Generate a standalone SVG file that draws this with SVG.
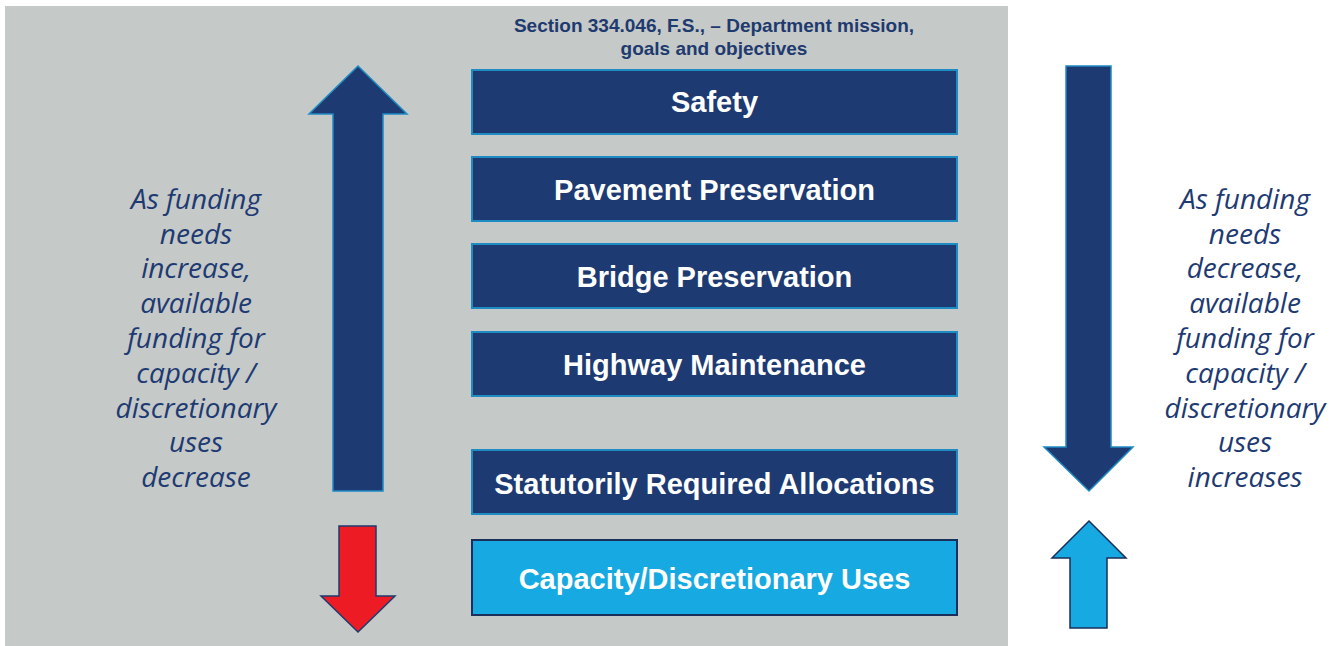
<svg xmlns="http://www.w3.org/2000/svg" width="1338" height="646" viewBox="0 0 1338 646">
<style>
.box{fill:#1e3a72;stroke:#1e8bc3;stroke-width:2}
.cap{fill:#17a9e1;stroke:#1a2f5a;stroke-width:2}
.lbl{font-family:"Liberation Sans",Arial,sans-serif;font-weight:bold;font-size:29px;fill:#ffffff;text-anchor:middle}
.ttl{font-family:"Liberation Sans",Arial,sans-serif;font-weight:bold;font-size:19px;fill:#1e3a6e;text-anchor:middle}
.it{font-family:"Open Sans",sans-serif;font-style:italic;font-size:28px;fill:#1e3a72;text-anchor:middle}
</style>
<rect x="0" y="0" width="1338" height="646" fill="#ffffff"/>
<rect x="5" y="6" width="1003" height="640" fill="#c5c9c8"/>
<g id="title">
<text class="ttl" x="714" y="32">Section 334.046, F.S., – Department mission,</text>
<text class="ttl" x="714" y="55">goals and objectives</text>
</g>
<g id="safety"><rect class="box" x="472" y="70" width="485" height="64"/><text class="lbl" x="714.5" y="112">Safety</text></g>
<g id="pavement"><rect class="box" x="472" y="157" width="485" height="64"/><text class="lbl" x="714.5" y="200">Pavement Preservation</text></g>
<g id="bridge"><rect class="box" x="472" y="244" width="485" height="64"/><text class="lbl" x="714.5" y="287">Bridge Preservation</text></g>
<g id="highway"><rect class="box" x="472" y="332" width="485" height="64"/><text class="lbl" x="714.5" y="375">Highway Maintenance</text></g>
<g id="statutory"><rect class="box" x="472" y="450" width="485" height="64"/><text class="lbl" x="714.5" y="494">Statutorily Required Allocations</text></g>
<g id="capacity"><rect class="cap" x="472" y="540" width="485" height="75"/><text class="lbl" x="714.5" y="589">Capacity/Discretionary Uses</text></g>
<g id="arrows">
<polygon points="358,66 407,114 383,114 383,491 333,491 333,114 309,114" fill="#1e3a72" stroke="#1e8bc3" stroke-width="1.5"/>
<polygon points="1066,66 1111,66 1111,447 1133,447 1089,491 1044,447 1066,447" fill="#1e3a72" stroke="#1e8bc3" stroke-width="1.5"/>
<polygon points="339,526 376,526 376,596 395,596 358,632 321,596 339,596" fill="#ed1c24" stroke="#1e3a6e" stroke-width="1.5"/>
<polygon points="1089,521 1126,558 1107,558 1107,628 1070,628 1070,558 1052,558" fill="#17a9e1" stroke="#1a2f5a" stroke-width="1.5"/>
</g>
<g id="left-note">
<text class="it" x="196" y="209">As funding</text>
<text class="it" x="196" y="244">needs</text>
<text class="it" x="196" y="278">increase,</text>
<text class="it" x="196" y="313">available</text>
<text class="it" x="196" y="348">funding for</text>
<text class="it" x="196" y="383">capacity /</text>
<text class="it" x="196" y="418">discretionary</text>
<text class="it" x="196" y="452">uses</text>
<text class="it" x="196" y="487">decrease</text>
</g>
<g id="right-note">
<text class="it" x="1245" y="209">As funding</text>
<text class="it" x="1245" y="244">needs</text>
<text class="it" x="1245" y="278">decrease,</text>
<text class="it" x="1245" y="313">available</text>
<text class="it" x="1245" y="348">funding for</text>
<text class="it" x="1245" y="383">capacity /</text>
<text class="it" x="1245" y="418">discretionary</text>
<text class="it" x="1245" y="452">uses</text>
<text class="it" x="1245" y="487">increases</text>
</g>
</svg>
